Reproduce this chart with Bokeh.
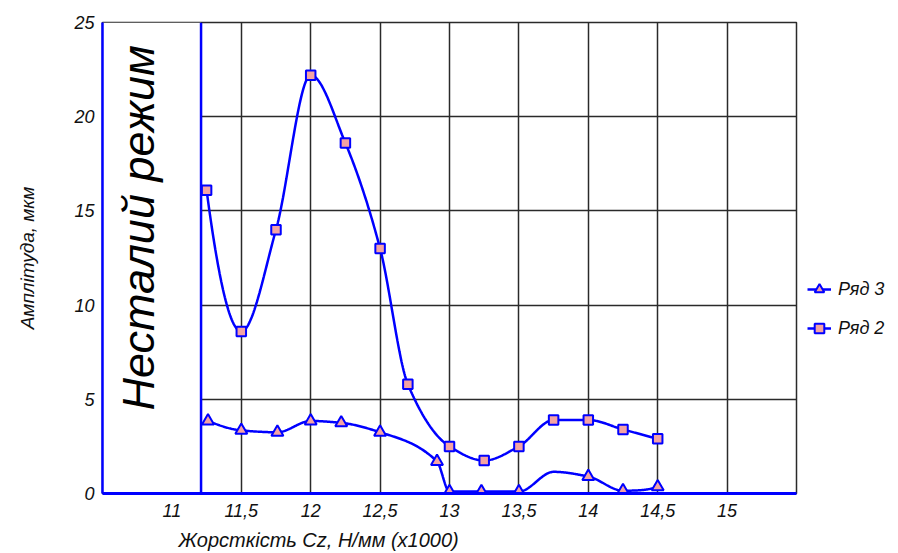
import numpy as np
from bokeh.plotting import figure
from bokeh.models import Range1d, FixedTicker, Label, Legend, LegendItem, ColumnDataSource, Span, Title
from bokeh.embed import file_html
from bokeh.resources import INLINE

# ---------------- data ----------------
x_ticks = [11, 11.5, 12, 12.5, 13, 13.5, 14, 14.5, 15]
x_tick_labels = ["11", "11,5", "12", "12,5", "13", "13,5", "14", "14,5", "15"]
y_ticks = [0, 5, 10, 15, 20, 25]
y_tick_labels = ["0", "5", "10", "15", "20", "25"]

ryad2_name = "Ряд 2"
ryad2_x = [11.25, 11.5, 11.75, 12.0, 12.25, 12.5, 12.7, 13.0, 13.25, 13.5, 13.75, 14.0, 14.25, 14.5]
ryad2_y = [16.1, 8.6, 14.0, 22.2, 18.6, 13.0, 5.8, 2.5, 1.75, 2.5, 3.9, 3.9, 3.4, 2.9]

ryad3_name = "Ряд 3"
ryad3_x = [11.26, 11.5, 11.76, 12.0, 12.22, 12.5, 12.91, 13.0, 13.23, 13.5, 13.75, 14.0, 14.25, 14.5]
ryad3_y = [3.85, 3.35, 3.25, 3.85, 3.75, 3.25, 1.7, 0.1, 0.1, 0.1, 1.15, 0.9, 0.15, 0.35]
ryad3_marked = [True, True, True, True, True, True, True, True, True, True, False, True, True, True]

unstable_limit = 11.21
unstable_text = "Несталий режим"
x_title = "Жорсткість Cz, Н/мм (x1000)"
y_title = "Амплітуда, мкм"

FONT = "Liberation Sans"
BLUE = "#0000ff"
MARK_FILL = "#f4a3a3"
TXT = "#111111"


def pchip(x, y, n=40):
    """Shape-preserving cubic through the points (smoothed line rendering)."""
    x = np.asarray(x, float)
    y = np.asarray(y, float)
    h = np.diff(x)
    d = np.diff(y) / h
    m = np.zeros_like(y)
    for k in range(1, len(x) - 1):
        if d[k - 1] * d[k] > 0:
            w1 = 2 * h[k] + h[k - 1]
            w2 = h[k] + 2 * h[k - 1]
            m[k] = (w1 + w2) / (w1 / d[k - 1] + w2 / d[k])
        else:
            m[k] = 0.0

    def end(h0, h1, d0, d1):
        mm = ((2 * h0 + h1) * d0 - h0 * d1) / (h0 + h1)
        if np.sign(mm) != np.sign(d0):
            mm = 0.0
        elif np.sign(d0) != np.sign(d1) and abs(mm) > abs(3 * d0):
            mm = 3 * d0
        return mm

    m[0] = end(h[0], h[1], d[0], d[1])
    m[-1] = end(h[-1], h[-2], d[-1], d[-2])
    xs, ys = [], []
    for k in range(len(h)):
        t = np.linspace(0, 1, n, endpoint=(k == len(h) - 1))
        h00 = 2 * t**3 - 3 * t**2 + 1
        h10 = t**3 - 2 * t**2 + t
        h01 = -2 * t**3 + 3 * t**2
        h11 = t**3 - t**2
        xs.extend(x[k] + t * h[k])
        ys.extend(h00 * y[k] + h10 * h[k] * m[k] + h01 * y[k + 1] + h11 * h[k] * m[k + 1])
    return xs, ys


p = figure(frame_width=694, frame_height=471, output_backend="svg", toolbar_location=None,
           x_range=Range1d(10.5, 15.5), y_range=Range1d(0, 25),
           min_border_left=102, min_border_right=94, min_border_top=22, min_border_bottom=52)
p.background_fill_color = "white"
p.border_fill_color = "white"
p.outline_line_color = "#2a2a2a"
p.outline_line_width = 1.5

# axes
p.xaxis.ticker = FixedTicker(ticks=x_ticks)
p.xaxis.major_label_overrides = dict(zip(x_ticks, x_tick_labels))
p.yaxis.ticker = FixedTicker(ticks=y_ticks)
p.yaxis.major_label_overrides = dict(zip(y_ticks, y_tick_labels))
for ax in (p.xaxis, p.yaxis):
    ax.major_tick_line_color = None
    ax.minor_tick_line_color = None
    ax.major_tick_out = 0
    ax.major_tick_in = 0
    ax.axis_line_color = BLUE
    ax.major_label_text_font = FONT
    ax.major_label_text_font_style = "italic"
    ax.major_label_text_font_size = "18px"
    ax.major_label_text_color = TXT
p.xaxis.axis_line_width = 3
p.yaxis.axis_line_width = 2.5
p.xaxis.major_label_standoff = 10
p.yaxis.major_label_standoff = 8

# y-axis title
p.yaxis.axis_label = y_title
p.yaxis.axis_label_standoff = 33
p.yaxis.axis_label_text_font = FONT
p.yaxis.axis_label_text_font_style = "italic"
p.yaxis.axis_label_text_font_size = "19px"
p.yaxis.axis_label_text_color = TXT

# grid
p.xgrid.ticker = FixedTicker(ticks=x_ticks)
p.ygrid.ticker = FixedTicker(ticks=[5, 10, 15, 20])
for g in (p.xgrid, p.ygrid):
    g.grid_line_color = "#2a2a2a"
    g.grid_line_width = 1.5
    g.grid_line_alpha = 1.0

# unstable regime box
p.quad(left=[10.5], right=[unstable_limit], bottom=[0], top=[25],
       fill_color="white", line_color=None)
p.add_layout(Span(location=unstable_limit, dimension="height", line_color=BLUE, line_width=2.5))
p.add_layout(Label(x=10.759, y=14.1, text=unstable_text, angle=90, angle_units="deg",
                   text_align="center", text_baseline="middle",
                   text_font=FONT, text_font_style="italic", text_font_size="45px",
                   text_color="black"))

# series
cx2, cy2 = pchip(ryad2_x, ryad2_y)
cx3, cy3 = pchip(ryad3_x, ryad3_y)
line2 = p.line(cx2, cy2, line_color=BLUE, line_width=2.5)
line3 = p.line(cx3, cy3, line_color=BLUE, line_width=2.5)

src2 = ColumnDataSource(dict(x=ryad2_x, y=ryad2_y))
mx3 = [xv for xv, f in zip(ryad3_x, ryad3_marked) if f]
my3 = [yv for yv, f in zip(ryad3_y, ryad3_marked) if f]
src3 = ColumnDataSource(dict(x=mx3, y=my3))
mark2 = p.scatter("x", "y", source=src2, marker="square", size=9.5,
                  fill_color=MARK_FILL, line_color=BLUE, line_width=2)
mark3 = p.scatter("x", "y", source=src3, marker="triangle", size=12,
                  fill_color=MARK_FILL, line_color=BLUE, line_width=2)

# x-axis title (side title, so it can sit off-centre like the original)
xt = Title(text=x_title, align="left", offset=76, standoff=15,
           text_font=FONT, text_font_style="italic", text_font_size="20px", text_color=TXT)
p.add_layout(xt, "below")

legend = Legend(items=[LegendItem(label=ryad3_name, renderers=[line3, mark3]),
                       LegendItem(label=ryad2_name, renderers=[line2, mark2])],
                location=(11, 151), orientation="vertical",
                glyph_width=24, glyph_height=28, label_height=28, spacing=11,
                label_standoff=7, padding=0, margin=0,
                border_line_color=None, background_fill_alpha=0,
                label_text_font=FONT, label_text_font_style="italic",
                label_text_font_size="18px", label_text_color=TXT)
p.add_layout(legend, "right")

open("out.html", "w").write(file_html(p, INLINE))
